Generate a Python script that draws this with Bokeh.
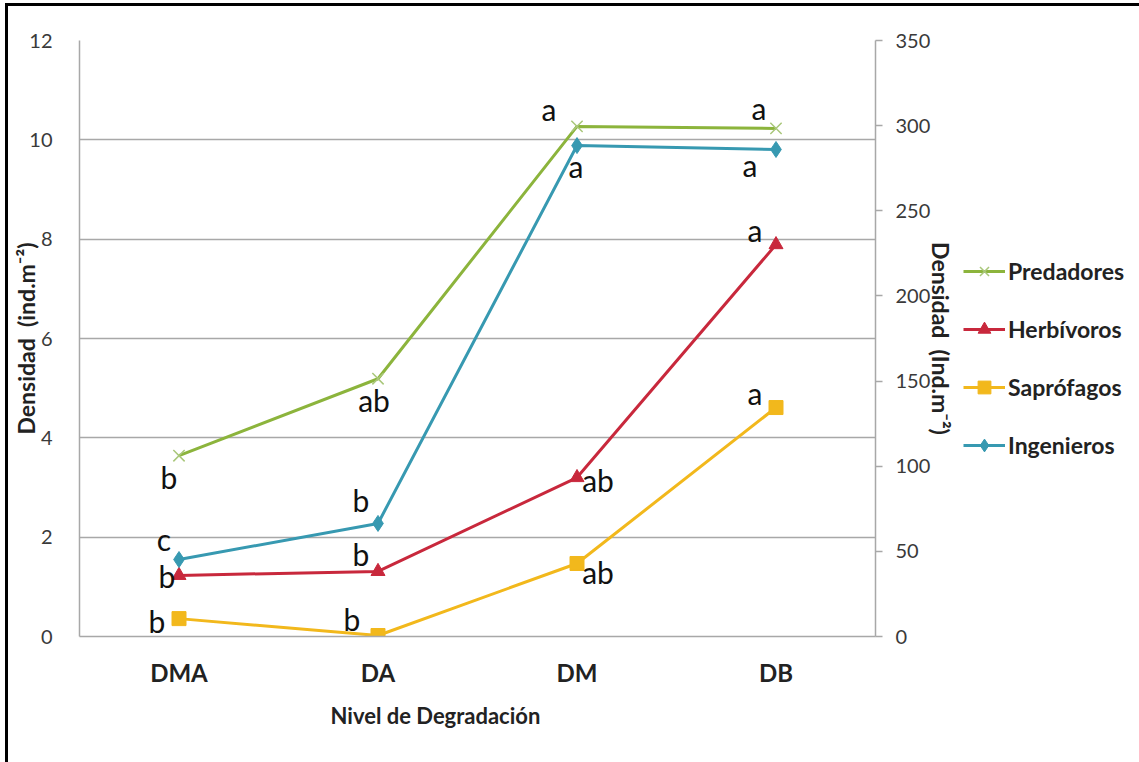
from bokeh.plotting import figure
from bokeh.layouts import row
from bokeh.models import (Range1d, LinearAxis, SingleIntervalTicker, FactorRange,
                          Legend, LegendItem, Title, ColumnDataSource)
from bokeh.core.properties import value
from bokeh.embed import file_html
from bokeh.resources import INLINE

# ---------------- data ----------------
categories = ["DMA", "DA", "DM", "DB"]
predadores = [3.64, 5.19, 10.27, 10.23]      # left axis
herbivoros = [1.23, 1.31, 3.20, 7.89]        # left axis
saprofagos = [0.36, 0.02, 1.47, 4.61]        # left axis
ingenieros = [45.2, 66.4, 288.3, 286.0]      # right axis
pred_letters = ["b", "ab", "a", "a"]
herb_letters = ["b", "b", "ab", "a"]
sapr_letters = ["b", "b", "ab", "a"]
inge_letters = ["c", "b", "a", "a"]
series_names = ["Predadores", "Herbívoros", "Saprófagos", "Ingenieros"]

# ---------------- styles ----------------
FONT = "Lato"
GREEN = "#8CB43C"
RED = "#C8283C"
YELLOW = "#F2B81C"
TEAL = "#3799B1"
XMARK = "#A9C77A"
GRID = "#A8A8A8"

pred_dx = [-10, -4, -28, -17]; pred_dy = [21, 21, -17, -20]
inge_dx = [-15, -17, -1, -26]; inge_dy = [-21, -23, 20, 16]
herb_dx = [-12, -17, 21, -21]; herb_dy = [1, -17, 2, -15]
sapr_dx = [-22, -26, 21, -21]; sapr_dy = [2, -17, 9, -15]

p = figure(width=955, height=756, output_backend="svg", toolbar_location=None,
           x_range=FactorRange(factors=categories, range_padding=0),
           y_range=Range1d(0, 12),
           min_border_left=71, min_border_right=88, min_border_top=34, min_border_bottom=126)
p.extra_y_ranges = {"right": Range1d(0, 350)}
p.background_fill_color = "white"
p.border_fill_color = "white"
p.outline_line_color = None

# left axis
ya = p.yaxis[0]
ya.ticker = SingleIntervalTicker(interval=2)
ya.axis_line_color = GRID
ya.axis_line_width = 1.5
ya.major_tick_line_color = None
ya.minor_tick_line_color = None
ya.major_label_standoff = 21
ya.major_label_text_font = FONT
ya.major_label_text_font_size = "20px"
ya.major_label_text_color = "#3a3a3a"
ya.axis_label = "Densidad\u00a0\u00a0(ind.m\u207b\u00b2)"
ya.axis_label_text_font = FONT
ya.axis_label_text_font_size = "23px"
ya.axis_label_text_font_style = "bold"
ya.axis_label_text_color = "#222222"
ya.axis_label_standoff = -14

# x axis
xa = p.xaxis[0]
xa.axis_line_color = GRID
xa.axis_line_width = 1.5
xa.major_tick_line_color = None
xa.minor_tick_line_color = None
xa.major_label_standoff = 15
xa.major_label_text_font = FONT
xa.major_label_text_font_size = "24px"
xa.major_label_text_font_style = "bold"
xa.major_label_text_color = "#222222"

p.xgrid.grid_line_color = None
p.ygrid.grid_line_color = GRID
p.ygrid.grid_line_width = 1.5

# right axis
ra = LinearAxis(y_range_name="right", ticker=SingleIntervalTicker(interval=50))
ra.axis_line_color = GRID
ra.axis_line_width = 1.5
ra.major_tick_line_color = GRID
ra.major_tick_line_width = 1.5
ra.major_tick_in = 0
ra.major_tick_out = 7
ra.minor_tick_line_color = None
ra.major_label_standoff = 13
ra.major_label_text_font = FONT
ra.major_label_text_font_size = "20px"
ra.major_label_text_color = "#3a3a3a"
ra.axis_label = "Densidad\u00a0\u00a0(Ind.m\u207b\u00b2)"
ra.axis_label_text_font = FONT
ra.axis_label_text_font_size = "23px"
ra.axis_label_text_font_style = "bold"
ra.axis_label_text_color = "#222222"
ra.axis_label_standoff = -6
p.add_layout(ra, "right")

# x title
p.add_layout(Title(text="Nivel de Degradación", align="left", offset=251, standoff=21,
                   text_font=FONT, text_font_size="22px", text_font_style="bold",
                   text_color="#222222"), "below")

# legend canvas (to the right of the chart); its copies of the series lie outside its view
q = figure(width=176, height=756, output_backend="svg", toolbar_location=None,
           x_range=FactorRange(factors=categories, range_padding=0), y_range=Range1d(-2, -1),
           x_axis_location=None, y_axis_location=None,
           min_border_left=0, min_border_right=0, min_border_top=0, min_border_bottom=0)
q.extra_y_ranges = {"right": Range1d(-2, -1)}
q.grid.grid_line_color = None
q.outline_line_color = None
q.background_fill_color = "white"
q.border_fill_color = "white"

# series
items = []
def series(name, vals, color, marker, msize, letters, dx, dy, yr="default"):
    src = ColumnDataSource(dict(x=categories, y=vals, t=letters, dx=dx, dy=dy))
    rs = []
    for fig in (p, q):
        lr = fig.line("x", "y", source=src, line_color=color, line_width=3, y_range_name=yr)
        if marker == "x":
            sr = fig.scatter("x", "y", source=src, marker="x", size=msize, line_color=XMARK,
                             line_width=1.5, y_range_name=yr)
        else:
            sr = fig.scatter("x", "y", source=src, marker=marker, size=msize, fill_color=color,
                             line_color=color, y_range_name=yr)
        rs = [lr, sr]
    p.text("x", "y", text="t", source=src, x_offset="dx", y_offset="dy",
           text_font=value(FONT), text_font_size="30px", text_color="#111111",
           text_align="center", text_baseline="middle", y_range_name=yr)
    items.append(LegendItem(label=name, renderers=rs))

series(series_names[0], predadores, GREEN, "x", 16, pred_letters, pred_dx, pred_dy)
series(series_names[1], herbivoros, RED, "triangle", 14, herb_letters, herb_dx, herb_dy)
series(series_names[2], saprofagos, YELLOW, "square", 14, sapr_letters, sapr_dx, sapr_dy)
series(series_names[3], ingenieros, TEAL, "diamond", 16, inge_letters, inge_dx, inge_dy, yr="right")

legend = Legend(items=items, location=(0, 175), orientation="vertical",
                border_line_color=None, background_fill_alpha=0,
                margin=0, padding=0, spacing=26,
                glyph_width=42, glyph_height=32, label_height=20, label_standoff=3,
                label_text_font=FONT, label_text_font_size="23px",
                label_text_font_style="bold", label_text_color="#222222")
q.add_layout(legend, "center")

layout = row(p, q, styles={"margin-left": "5px", "margin-top": "3px",
                           "border-left": "3px solid black", "border-top": "3px solid black"})

open("out.html", "w").write(file_html(layout, INLINE))
